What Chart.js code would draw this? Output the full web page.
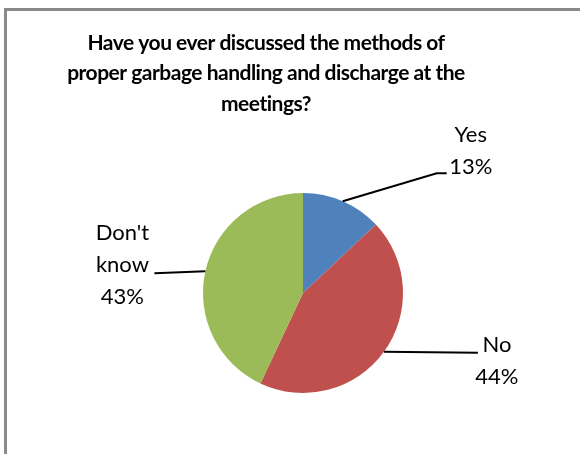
<!DOCTYPE html>
<html>

<head>
    <title>Garbage handling survey</title>
    <meta charset="utf-8">
    <script src="https://cdn.jsdelivr.net/npm/chart.js@4.4.0/dist/chart.umd.min.js"></script>
    <style>
        body {
            margin: 0;
            background: #fff;
            overflow: hidden;
        }

        .frame {
            position: absolute;
            left: 4px;
            top: 8px;
            width: 620px;
            height: 500px;
            border: 3px solid #8a8a8a;
        }

        #pie-Chart {
            position: absolute;
            left: 0;
            top: 0;
        }
    </style>
</head>

<body>
    <div class="frame"></div>
    <canvas id="pie-Chart" width="580" height="454"></canvas>
    <script>
        // Chart data
        const titleLines = ["Have you ever discussed the methods of", "proper garbage handling and discharge at the", "meetings?"];
        const categories = ["Yes", "No", "Don't know"];
        const answers = [13, 44, 43];
        const sliceColors = ["#4F81BD", "#C0504D", "#9BBB59"];

        // where each label sits, relative to the slice edge (px)
        const labelPlace = [
            { elbow: [94, -28], end: [104, -28], text: [128, -66] },
            { elbow: null, end: [94, 1], text: [113, -7] },
            { elbow: null, end: [-51, 2], text: [-83, -38] }
        ];

        const total = answers.reduce((a, b) => a + b, 0);

        const titleDraw = {
            id: 'titleDraw',
            afterDraw(chart) {
                const ctx = chart.ctx;
                ctx.save();
                ctx.fillStyle = '#000';
                ctx.font = 'bold 21px Lato';
                ctx.letterSpacing = '-0.5px';
                ctx.textAlign = 'center';
                ctx.textBaseline = 'middle';
                titleLines.forEach((l, i) => ctx.fillText(l, 266, 43 + i * 30.5));
                ctx.restore();
            }
        };

        const pieLabels = {
            id: 'pieLabels',
            afterDraw(chart) {
                const ctx = chart.ctx;
                const arcs = chart.getDatasetMeta(0).data;
                ctx.save();
                ctx.strokeStyle = '#000';
                ctx.lineWidth = 2;
                ctx.fillStyle = '#000';
                ctx.font = '22px Lato';
                ctx.textAlign = 'center';
                ctx.textBaseline = 'middle';
                arcs.forEach((arc, i) => {
                    const mid = (arc.startAngle + arc.endAngle) / 2;
                    const ex = arc.x + Math.cos(mid) * arc.outerRadius;
                    const ey = arc.y + Math.sin(mid) * arc.outerRadius;
                    const p = labelPlace[i];
                    ctx.beginPath();
                    ctx.moveTo(ex, ey);
                    if (p.elbow) ctx.lineTo(ex + p.elbow[0], ey + p.elbow[1]);
                    ctx.lineTo(ex + p.end[0], ey + p.end[1]);
                    ctx.stroke();
                    const pct = Math.round(answers[i] / total * 100) + '%';
                    const lines = categories[i].split(' ').concat([pct]);
                    lines.forEach((t, j) => ctx.fillText(t, ex + p.text[0], ey + p.text[1] + j * 32));
                });
                ctx.restore();
            }
        };

        new Chart(document.getElementById('pie-Chart'), {
            type: 'pie',
            data: {
                labels: categories,
                datasets: [{ data: answers, backgroundColor: sliceColors, borderWidth: 0 }]
            },
            options: {
                responsive: false,
                animation: false,
                layout: { padding: { left: 203, right: 177, top: 193, bottom: 61 } },
                plugins: {
                    legend: { display: false },
                    tooltip: { enabled: false },
                    title: { display: false }
                }
            },
            plugins: [titleDraw, pieLabels]
        });
    </script>
</body>

</html>
